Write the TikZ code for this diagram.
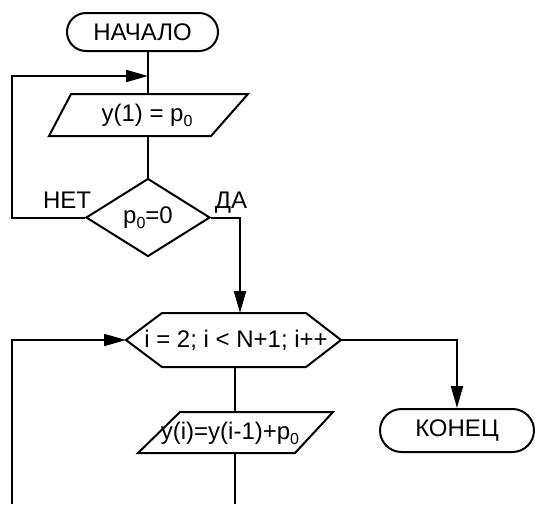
\documentclass[tikz,border=0pt]{standalone}
\usepackage{fontspec}
\setmainfont{Liberation Sans}
\usetikzlibrary{arrows.meta,shapes.geometric,shapes.misc}
\newcommand{\lowsub}[1]{\raisebox{-0.4ex}{\fontsize{16}{16}\selectfont #1}}
\begin{document}
\begin{tikzpicture}[x=1pt,y=-1pt,
  line width=2pt,
  every node/.style={font=\fontsize{24}{27}\selectfont},
  term/.style={rounded rectangle, draw, inner sep=0pt},
  dec/.style={diamond, draw, inner sep=0pt, minimum width=124pt, minimum height=78pt},
  lbl/.style={inner sep=0pt},
  flow/.style={-{Triangle[length=22pt,width=12pt]}}
]
\useasboundingbox (0,0) rectangle (535,504);
% start
\node[term, minimum width=151pt, minimum height=38pt] (start) at (142.5,32) {НАЧАЛО};
% input 1
\draw (71,94) -- (248,94) -- (211,136) -- (49,136) -- cycle;
\node[lbl] (io1) at (147,115) {y(1) = p\lowsub{0}};
\coordinate (io1n) at (148,94);
\coordinate (io1s) at (148,136);
\coordinate (merge1) at (148,76);
% decision
\node[dec] (cond) at (148,217.5) {p\lowsub{0}=0};
\node[lbl, anchor=base] (no) at (67,208) {НЕТ};
\node[lbl, anchor=base] (yes) at (231,208) {ДА};
\coordinate (loopA) at (12,76);
% loop hexagon
\draw (126,340) -- (162,313) -- (306,313) -- (341,340) -- (306,367) -- (162,367) -- cycle;
\node[lbl] (loop) at (236,340) {i = 2; i < N+1; i++};
\coordinate (loopW) at (126,340);
\coordinate (loopN) at (240,313);
\coordinate (loopE) at (341,340);
\coordinate (loopS) at (235,367);
% end
\node[term, minimum width=154pt, minimum height=43pt] (end) at (457,430.5) {КОНЕЦ};
% input 2
\draw (180,412) -- (333,412) -- (295,453) -- (138,453) -- cycle;
\node[lbl] (io2) at (230,433) {y(i)=y(i-1)+p\lowsub{0}};
\coordinate (io2n) at (235,412);
\coordinate (io2s) at (235,453);
\coordinate (bottomL) at (12,504);
\coordinate (bottomC) at (235,504);
% connectors
\draw (start.south -| io1n) -- (io1n);
\draw (io1s) -- (cond.north);
\draw[flow] (cond.west) -| (loopA) -- (merge1);
\draw[flow] (cond.east) -| (loopN);
\draw[flow] (bottomL) |- (loopW);
\draw[flow] (loopE) -| (end.north);
\draw (loopS) -- (io2n);
\draw (io2s) -- (bottomC);
\end{tikzpicture}
\end{document}
